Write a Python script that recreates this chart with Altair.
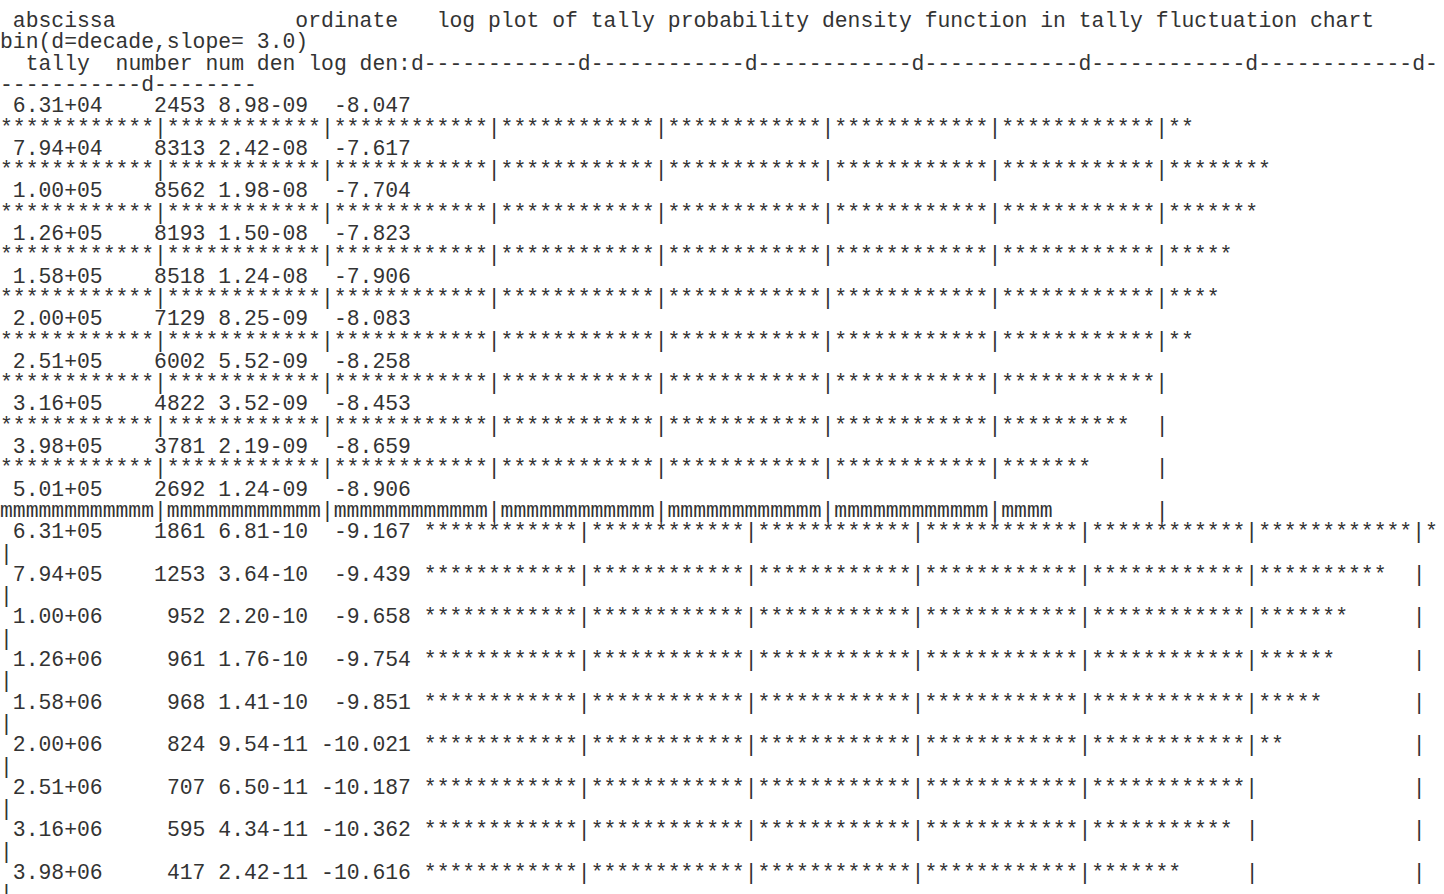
import re

import altair as alt
import pandas as pd

# ---- tally fluctuation chart: one entry per tally bin ----
tally = [6.31e4, 7.94e4, 1.00e5, 1.26e5, 1.58e5, 2.00e5, 2.51e5, 3.16e5, 3.98e5, 5.01e5,
         6.31e5, 7.94e5, 1.00e6, 1.26e6, 1.58e6, 2.00e6, 2.51e6, 3.16e6, 3.98e6]
number = [2453, 8313, 8562, 8193, 8518, 7129, 6002, 4822, 3781, 2692,
          1861, 1253, 952, 961, 968, 824, 707, 595, 417]
num_den = [8.98e-09, 2.42e-08, 1.98e-08, 1.50e-08, 1.24e-08, 8.25e-09, 5.52e-09, 3.52e-09,
           2.19e-09, 1.24e-09, 6.81e-10, 3.64e-10, 2.20e-10, 1.76e-10, 1.41e-10, 9.54e-11,
           6.50e-11, 4.34e-11, 2.42e-11]
log_den = [-8.047, -7.617, -7.704, -7.823, -7.906, -8.083, -8.258, -8.453, -8.659, -8.906,
           -9.167, -9.439, -9.658, -9.754, -9.851, -10.021, -10.187, -10.362, -10.616]
# bar length of each bin, in character cells of the log plot
bar_cells = [93, 99, 98, 96, 95, 93, 90, 88, 85, 82, 79, 75, 72, 71, 70, 67, 65, 63, 59]
mean_bin = 9        # the bin holding the mean is drawn with "m"
slope = 3.0

# ---- text layout ----
DECADE = 13         # cells per decade on the log axis
PLOT_CELLS = 99     # width of the plot field
WRAP = 112          # characters per printed line
FONT_SIZE = 21.4
CHAR_W = FONT_SIZE * 0.6001
LINE_STEP = 21.3
FIRST_BASELINE = 27


def mcnp(v):
    """6.31e+04 -> 6.31+04, the way MCNP prints exponents."""
    mant, exp = f"{v:.2e}".split("e")
    return mant + exp


def bar(n, ch):
    cells = []
    for i in range(PLOT_CELLS):
        edge = (i + 1) % DECADE == 0
        cells.append("|" if edge else (ch if i < n else " "))
    return "".join(cells)


def wrap(s, width=WRAP):
    """Greedy wrap: break after a blank or a hyphen, blanks hang at the break."""
    out = []
    while len(s.rstrip()) > width:
        best = None
        for p in range(1, len(s)):
            if s[p - 1] in " -" and s[p] != " " and len(s[:p].rstrip()) <= width:
                best = p
        if best is None:
            best = width
        out.append(s[:best].rstrip())
        s = s[best:]
    out.append(s.rstrip())
    return out


title = (" abscissa              ordinate   log plot of tally probability density "
         f"function in tally fluctuation chart bin(d=decade,slope={slope:4.1f})")
header = "  tally  number num den log den:" + "".join(
    "d" if i % DECADE == 0 else "-" for i in range(PLOT_CELLS + 1))

logical = [title, header]
for k in range(len(tally)):
    ch = "m" if k == mean_bin else "*"
    row = (f" {mcnp(tally[k])}{number[k]:>8} {mcnp(num_den[k])} {log_den[k]:>7.3f} "
           + bar(bar_cells[k], ch))
    logical.append(row)

lines = []
for text in logical:
    lines.extend(wrap(text))

records = []
for li, text in enumerate(lines):
    for m in re.finditer(r"\S+", text):
        records.append({"line": li, "col": m.start(), "text": m.group()})
df = pd.DataFrame(records)
n_lines = len(lines)

chart = (
    alt.Chart(df)
    .mark_text(align="left", baseline="alphabetic", font="Liberation Mono",
               fontSize=FONT_SIZE, color="#333333")
    .encode(
        x=alt.X("col:Q", axis=None,
                scale=alt.Scale(domain=[0, WRAP], range=[0, WRAP * CHAR_W],
                                nice=False, zero=False)),
        y=alt.Y("line:Q", axis=None,
                scale=alt.Scale(domain=[0, n_lines - 1],
                                range=[FIRST_BASELINE,
                                       FIRST_BASELINE + LINE_STEP * (n_lines - 1)],
                                nice=False, zero=False)),
        text="text:N",
    )
    .properties(width=1444, height=894, autosize="none", padding=0)
    .configure_view(stroke=None)
)

chart.save("out.html", embed_options={"renderer": "svg", "actions": False})
